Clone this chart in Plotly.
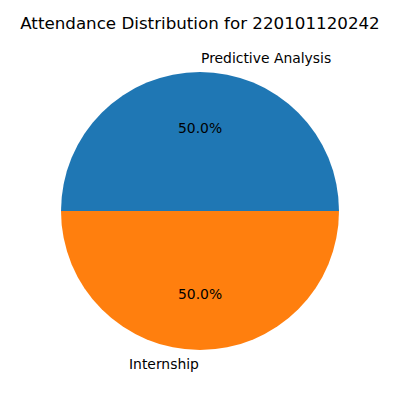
import math
import plotly.graph_objects as go

# attendance data
subjects = ["Predictive Analysis", "Internship"]
counts = [1, 1]
colors = ["#1f77b4", "#ff7f0e"]
title_text = "Attendance Distribution for 220101120242"

W, H = 400, 400
OFF = 8  # page body margin in the browser
# pie placement in figure pixels (center x, center y from bottom, radius)
cx, cy, r = 200 - OFF, 189 + OFF, 139
label_font = dict(family="DejaVu Sans", size=13.9, color="black")

fig = go.Figure(go.Pie(
    labels=subjects,
    values=counts,
    sort=False,
    direction="counterclockwise",
    rotation=-90,
    textinfo="none",
    hoverinfo="label+percent",
    marker=dict(colors=colors, line=dict(width=0)),
    domain=dict(x=[(cx - r) / W, (cx + r) / W], y=[(cy - r) / H, (cy + r) / H]),
    showlegend=False,
))

# labels and percentages like matplotlib (labeldistance 1.1, pctdistance 0.6)
total = sum(counts)
start = 0.0
for name, v in zip(subjects, counts):
    frac = v / total
    theta = 2 * math.pi * (start + frac / 2)
    start += frac
    c, s = math.cos(theta), math.sin(theta)
    fig.add_annotation(
        x=(cx + 1.1 * r * c) / W, y=(cy + 1.1 * r * s) / H,
        xref="paper", yref="paper", text=name, showarrow=False, borderpad=0,
        xanchor="left" if c > 0 else "right", yanchor="middle", font=label_font,
    )
    fig.add_annotation(
        x=(cx + 0.6 * r * c) / W, y=(cy + 0.6 * r * s) / H,
        xref="paper", yref="paper", text=f"{frac * 100:.1f}%", showarrow=False, borderpad=0,
        xanchor="center", yanchor="middle", font=label_font,
    )

fig.update_layout(
    width=W, height=H,
    margin=dict(l=0, r=0, t=0, b=0),
    paper_bgcolor="white",
    plot_bgcolor="white",
    title=dict(text=title_text, x=(200 - OFF) / W, xanchor="center", y=1 - (23 - OFF) / H,
               yanchor="middle", font=dict(family="DejaVu Sans", size=16.7, color="black")),
)

fig.write_html("out.html")
